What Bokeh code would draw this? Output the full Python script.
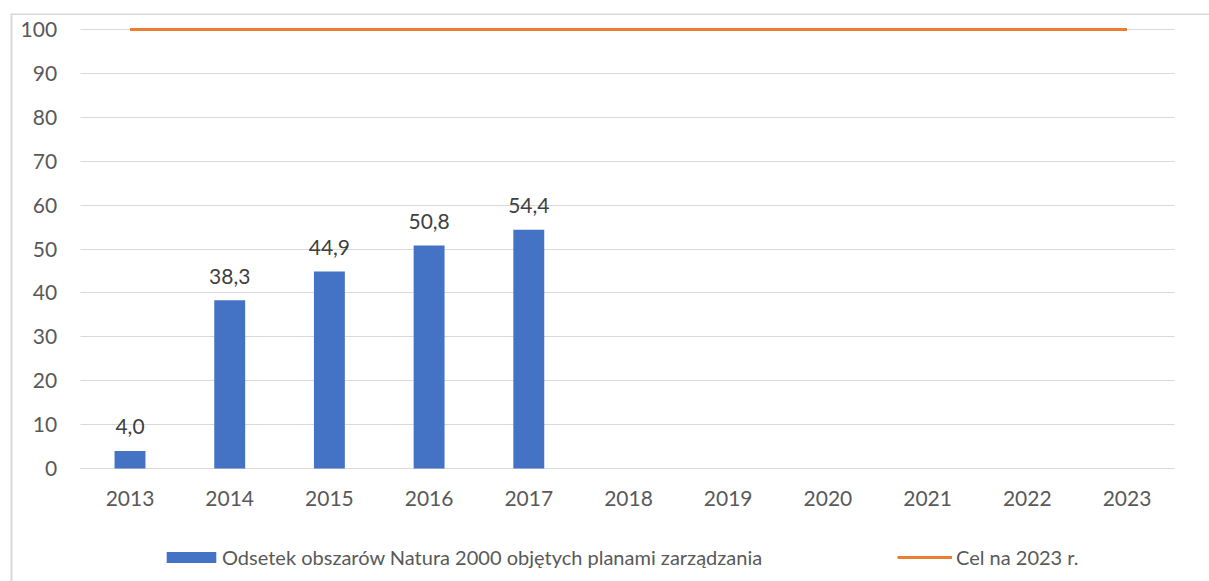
from bokeh.plotting import figure
from bokeh.models import (ColumnDataSource, FixedTicker, Legend, LegendItem, Range1d, Span,
                          BasicTickFormatter)
from bokeh.core.properties import value
from bokeh.embed import file_html
from bokeh.resources import INLINE

years = [2013, 2014, 2015, 2016, 2017, 2018, 2019, 2020, 2021, 2022, 2023]
bar_years = [2013, 2014, 2015, 2016, 2017]
share = [4.0, 38.3, 44.9, 50.8, 54.4]
target = [100, 100, 100, 100, 100, 100, 100, 100, 100, 100, 100]
y_ticks = [0, 10, 20, 30, 40, 50, 60, 70, 80, 90, 100]
bar_name = "Odsetek obszarów Natura 2000 objętych planami zarządzania"
line_name = "Cel na 2023 r."

FONT = "Lato"
TXT = "#595959"
BLUE = "#4472C4"
ORANGE = "#ED7D31"
GRID = "#D9D9D9"
FS = "21px"

labels = [f"{v:.1f}".replace(".", ",") for v in share]
bar_src = ColumnDataSource(dict(x=bar_years, top=share, lab=labels))
line_src = ColumnDataSource(dict(x=years, y=target))

X0, X1 = 2011.8014, 2023.8275
Y0, Y1 = -25.74, 103.645
p = figure(width=1209, height=581, x_range=Range1d(X0, X1), y_range=Range1d(Y0, Y1),
           output_backend="svg", toolbar_location=None,
           min_border_left=10, min_border_right=0, min_border_top=13, min_border_bottom=0)
p.outline_line_color = None
p.background_fill_color = "white"
p.border_fill_color = "white"
p.xgrid.grid_line_color = None
p.ygrid.grid_line_color = None

# outer chart-area border (left and top edges)
p.add_layout(Span(location=X0, dimension="height", line_color=GRID, line_width=4, level="underlay"))
p.add_layout(Span(location=Y1, dimension="width", line_color=GRID, line_width=3, level="underlay"))

bars = p.vbar(x="x", top="top", width=0.31, source=bar_src, fill_color=BLUE, line_color=None)
ln = p.line(x="x", y="y", source=line_src, line_color=ORANGE, line_width=3)
p.text(x="x", y="top", text="lab", source=bar_src, text_align="center", text_baseline="middle",
       y_offset=-24, text_font=value(FONT), text_font_size=FS, text_color="#404040")

# y axis: labels on the left, long inward ticks act as the horizontal gridlines
ya = p.yaxis[0]
ya.level = "underlay"
ya.fixed_location = 2012.5
ya.ticker = FixedTicker(ticks=y_ticks)
ya.axis_line_color = None
ya.major_tick_in = 1094
ya.major_tick_out = 0
ya.major_tick_line_color = GRID
ya.minor_tick_line_color = None
ya.major_label_standoff = 23
ya.major_label_text_font = FONT
ya.major_label_text_font_size = FS
ya.major_label_text_color = TXT

xa = p.xaxis[0]
xa.level = "underlay"
xa.fixed_location = 0
xa.bounds = (2012.5, 2023.47)
xa.ticker = FixedTicker(ticks=years)
xa.formatter = BasicTickFormatter(use_scientific=False)
xa.axis_line_color = GRID
xa.major_tick_line_color = None
xa.minor_tick_line_color = None
xa.major_label_standoff = 16
xa.major_label_text_font = FONT
xa.major_label_text_font_size = FS
xa.major_label_text_color = TXT

common = dict(padding=0, margin=0, border_line_color=None, background_fill_alpha=0,
              label_text_font=FONT, label_text_font_size="20px", label_text_color=TXT,
              label_height=20, glyph_height=14)
leg1 = Legend(items=[LegendItem(label=bar_name, renderers=[bars])], location=(150, 12),
              glyph_width=62, label_standoff=0, **common)
leg2 = Legend(items=[LegendItem(label=line_name, renderers=[ln])], location=(887, 12),
              glyph_width=55, label_standoff=4, **common)
p.add_layout(leg1, "center")
p.add_layout(leg2, "center")

open("out.html", "w").write(file_html(p, INLINE))
